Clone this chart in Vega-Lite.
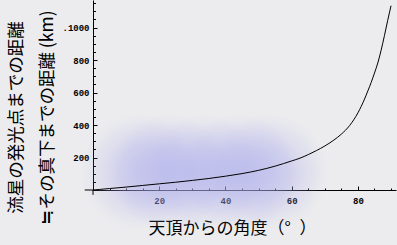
{
  "$schema": "https://vega.github.io/schema/vega-lite/v6.json",
  "width": 303,
  "height": 190,
  "autosize": {"type": "none"},
  "padding": {"left": 93, "top": 0, "right": 1, "bottom": 55},
  "background": "#ececee",
  "view": {"stroke": null},
  "config": {
    "axis": {
      "grid": false,
      "domainColor": "#000",
      "tickColor": "#000",
      "labelColor": "#000",
      "titleColor": "#000",
      "labelFont": "Liberation Mono",
      "labelFontWeight": "bold",
      "labelFontSize": 9,
      "zindex": 1
    },
    "rect": {
      "fill": {
        "gradient": "radial",
        "x1": 0.5, "y1": 0.5, "r1": 0,
        "x2": 0.5, "y2": 0.5, "r2": 0.5,
        "stops": [
          {"offset": 0, "color": "rgba(170,170,236,0.44)"},
          {"offset": 0.4, "color": "rgba(170,170,236,0.35)"},
          {"offset": 0.72, "color": "rgba(170,170,236,0.16)"},
          {"offset": 1, "color": "rgba(170,170,236,0)"}
        ]
      }
    }
  },
  "resolve": {"axis": {"x": "independent", "y": "independent"}},
  "layer": [
    {
      "data": {"values": [{}]},
      "mark": "rect",
      "encoding": {
        "x": {"datum": -3.3, "type": "quantitative", "scale": {"domain": [0, 91.5], "nice": false, "zero": false}, "axis": null},
        "x2": {"datum": 31.5},
        "y": {"datum": 470, "type": "quantitative", "scale": {"domain": [0, 1170], "nice": false, "zero": false}, "axis": null},
        "y2": {"datum": -250}
      }
    },
    {
      "data": {"values": [{}]},
      "mark": "rect",
      "encoding": {
        "x": {"datum": 5.7, "type": "quantitative", "scale": {"domain": [0, 91.5], "nice": false, "zero": false}, "axis": null},
        "x2": {"datum": 40.5},
        "y": {"datum": 470, "type": "quantitative", "scale": {"domain": [0, 1170], "nice": false, "zero": false}, "axis": null},
        "y2": {"datum": -250}
      }
    },
    {
      "data": {"values": [{}]},
      "mark": "rect",
      "encoding": {
        "x": {"datum": 16.2, "type": "quantitative", "scale": {"domain": [0, 91.5], "nice": false, "zero": false}, "axis": null},
        "x2": {"datum": 51},
        "y": {"datum": 470, "type": "quantitative", "scale": {"domain": [0, 1170], "nice": false, "zero": false}, "axis": null},
        "y2": {"datum": -250}
      }
    },
    {
      "data": {"values": [{}]},
      "mark": "rect",
      "encoding": {
        "x": {"datum": 26.8, "type": "quantitative", "scale": {"domain": [0, 91.5], "nice": false, "zero": false}, "axis": null},
        "x2": {"datum": 61.6},
        "y": {"datum": 470, "type": "quantitative", "scale": {"domain": [0, 1170], "nice": false, "zero": false}, "axis": null},
        "y2": {"datum": -250}
      }
    },
    {
      "data": {"values": [{}]},
      "mark": "rect",
      "encoding": {
        "x": {"datum": 35.8, "type": "quantitative", "scale": {"domain": [0, 91.5], "nice": false, "zero": false}, "axis": null},
        "x2": {"datum": 70.6},
        "y": {"datum": 470, "type": "quantitative", "scale": {"domain": [0, 1170], "nice": false, "zero": false}, "axis": null},
        "y2": {"datum": -250}
      }
    },
    {
      "data": {"values": [{}]},
      "mark": {"type": "rule", "color": "#000", "strokeWidth": 1},
      "encoding": {
        "x": {"datum": -2.5, "type": "quantitative", "scale": {"domain": [0, 91.5], "nice": false, "zero": false},
          "axis": {"orient": "bottom", "domain": false, "values": [5, 10, 15, 25, 30, 35, 45, 50, 55, 65, 70, 75, 85, 90], "tickSize": -2, "labels": false, "title": null}},
        "x2": {"datum": 0},
        "y": {"datum": 0, "type": "quantitative", "scale": {"domain": [0, 1170], "nice": false, "zero": false},
          "axis": {"orient": "left", "domain": false, "values": [50, 100, 150, 250, 300, 350, 450, 500, 550, 650, 700, 750, 850, 900, 950, 1050, 1100, 1150], "tickSize": -2.5, "labels": false, "title": null}}
      }
    },
    {
      "data": {"values": [{}]},
      "mark": {"type": "rule", "color": "#000", "strokeWidth": 1},
      "encoding": {
        "x": {"datum": 0, "type": "quantitative", "scale": {"domain": [0, 91.5], "nice": false, "zero": false}, "axis": null},
        "y": {"datum": -30, "type": "quantitative", "scale": {"domain": [0, 1170], "nice": false, "zero": false}, "axis": null},
        "y2": {"datum": 0}
      }
    },
    {
      "data": {
        "values": [
          {"angle": 0, "distance": 0},
          {"angle": 2, "distance": 3.5},
          {"angle": 5, "distance": 9},
          {"angle": 10, "distance": 18},
          {"angle": 15, "distance": 28},
          {"angle": 20, "distance": 38},
          {"angle": 25, "distance": 48},
          {"angle": 30, "distance": 59},
          {"angle": 35, "distance": 71},
          {"angle": 40, "distance": 85},
          {"angle": 45, "distance": 101},
          {"angle": 50, "distance": 121},
          {"angle": 55, "distance": 147},
          {"angle": 60, "distance": 179},
          {"angle": 62.5, "distance": 196},
          {"angle": 65, "distance": 218},
          {"angle": 67.5, "distance": 243},
          {"angle": 70, "distance": 271},
          {"angle": 72.5, "distance": 304},
          {"angle": 75, "distance": 344},
          {"angle": 77.5, "distance": 397},
          {"angle": 80, "distance": 475},
          {"angle": 81, "distance": 515},
          {"angle": 82, "distance": 560},
          {"angle": 83, "distance": 610},
          {"angle": 84, "distance": 662},
          {"angle": 85, "distance": 720},
          {"angle": 86, "distance": 782},
          {"angle": 87, "distance": 860},
          {"angle": 88, "distance": 950},
          {"angle": 89, "distance": 1045},
          {"angle": 90, "distance": 1135}
        ]
      },
      "mark": {"type": "line", "color": "#000", "strokeWidth": 1, "interpolate": "monotone"},
      "encoding": {
        "x": {
          "field": "angle", "type": "quantitative",
          "scale": {"domain": [0, 91.5], "nice": false, "zero": false},
          "axis": {
            "orient": "bottom", "values": [20, 40, 60, 80], "tickSize": -4, "labelPadding": 10,
            "labelFlush": false,
            "title": "天頂からの角度（°\u2002）",
            "titleFont": "Noto Sans CJK JP", "titleFontSize": 17, "titleFontWeight": "normal",
            "titleX": 139, "titleY": 38.5, "titleAlign": "center", "titleBaseline": "middle", "titleAngle": 0
          }
        },
        "y": {
          "field": "distance", "type": "quantitative",
          "scale": {"domain": [0, 1170], "nice": false, "zero": false},
          "axis": {
            "orient": "left", "values": [200, 400, 600, 800, 1000], "tickSize": -4, "labelPadding": 8,
            "labelExpr": "datum.value == 1000 ? '.1000' : datum.label",
            "title": ["流星の発光点までの距離", "≒その真下までの距離 (km)"],
            "titleFont": "Noto Sans CJK JP", "titleFontSize": 17.5, "titleFontWeight": "normal",
            "titleLineHeight": 31,
            "titleAngle": -90, "titleX": -86, "titleY": 117, "titleAlign": "center", "titleBaseline": "top"
          }
        }
      }
    }
  ]
}
